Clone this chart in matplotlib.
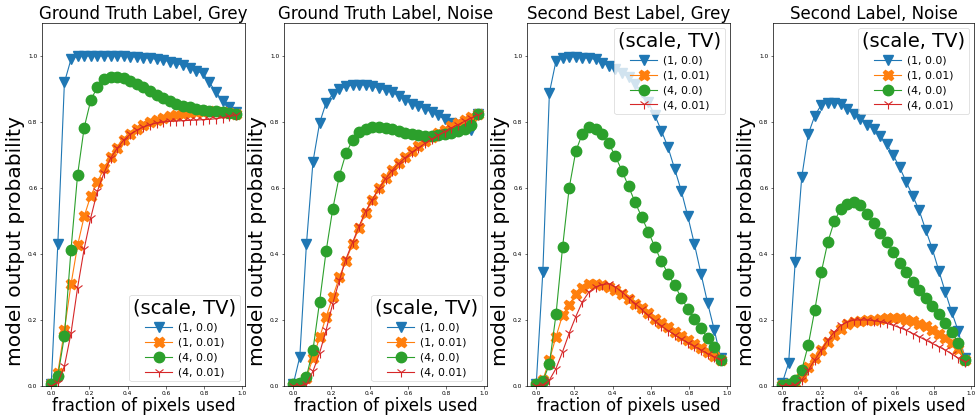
import numpy as np
import matplotlib
matplotlib.use("Agg")
import matplotlib.pyplot as plt

# fraction of pixels used (29 points)
fractions = np.arange(29) / 29

titles = ["Ground Truth Label, Grey", "Ground Truth Label, Noise",
          "Second Best Label, Grey", "Second Label, Noise"]
series_labels = ["(1, 0.0)", "(1, 0.01)", "(4, 0.0)", "(4, 0.01)"]
legend_locs = ["lower right", "lower right", "upper right", "upper right"]

# Panel 1: Ground Truth Label, Grey
gt_grey_1_00 = [0.005, 0.43, 0.92, 0.99, 1.0, 1.0, 1.0, 1.0, 1.0, 1.0, 1.0, 1.0, 0.998, 0.997,
                0.995, 0.993, 0.99, 0.987, 0.983, 0.978, 0.972, 0.965, 0.955, 0.947, 0.92, 0.89,
                0.864, 0.845, 0.83]
gt_grey_1_01 = [0.005, 0.04, 0.17, 0.308, 0.426, 0.514, 0.577, 0.617, 0.66, 0.695, 0.72, 0.745,
                0.765, 0.78, 0.79, 0.8, 0.807, 0.812, 0.817, 0.821, 0.825, 0.828, 0.83, 0.831,
                0.832, 0.831, 0.83, 0.828, 0.825]
gt_grey_4_00 = [0.005, 0.03, 0.151, 0.413, 0.64, 0.783, 0.866, 0.906, 0.93, 0.937, 0.937, 0.933,
                0.925, 0.915, 0.905, 0.893, 0.882, 0.872, 0.863, 0.856, 0.85, 0.845, 0.84, 0.837,
                0.834, 0.832, 0.83, 0.828, 0.825]
gt_grey_4_01 = [0.0, 0.01, 0.06, 0.16, 0.298, 0.416, 0.51, 0.59, 0.645, 0.69, 0.72, 0.745, 0.763,
                0.775, 0.785, 0.792, 0.797, 0.8, 0.802, 0.803, 0.804, 0.805, 0.806, 0.807, 0.808,
                0.81, 0.813, 0.817, 0.82]

# Panel 2: Ground Truth Label, Noise
gt_noise_1_00 = [0.005, 0.089, 0.429, 0.68, 0.797, 0.859, 0.884, 0.9, 0.908, 0.912, 0.913, 0.912,
                 0.908, 0.903, 0.897, 0.89, 0.88, 0.868, 0.855, 0.85, 0.84, 0.83, 0.82, 0.808,
                 0.798, 0.79, 0.783, 0.777, 0.825]
gt_noise_1_01 = [0.0, 0.005, 0.025, 0.085, 0.147, 0.21, 0.27, 0.33, 0.38, 0.43, 0.48, 0.525, 0.565,
                 0.6, 0.63, 0.655, 0.677, 0.695, 0.712, 0.727, 0.741, 0.754, 0.766, 0.777, 0.787,
                 0.797, 0.806, 0.815, 0.825]
gt_noise_4_00 = [0.005, 0.01, 0.028, 0.11, 0.255, 0.41, 0.537, 0.637, 0.705, 0.745, 0.77, 0.78,
                 0.785, 0.785, 0.782, 0.778, 0.773, 0.768, 0.764, 0.761, 0.759, 0.758, 0.76, 0.763,
                 0.767, 0.772, 0.778, 0.79, 0.825]
gt_noise_4_01 = [0.0, 0.0, 0.005, 0.045, 0.1, 0.17, 0.25, 0.32, 0.385, 0.435, 0.485, 0.53, 0.565,
                 0.598, 0.628, 0.653, 0.674, 0.692, 0.708, 0.722, 0.735, 0.748, 0.76, 0.771, 0.782,
                 0.792, 0.802, 0.812, 0.822]

# Panel 3: Second Best Label, Grey
sb_grey_1_00 = [0.005, 0.345, 0.889, 0.985, 0.995, 0.998, 0.997, 0.995, 0.993, 0.99, 0.98, 0.97,
                0.96, 0.95, 0.935, 0.915, 0.89, 0.86, 0.82, 0.773, 0.723, 0.658, 0.592, 0.514,
                0.43, 0.34, 0.252, 0.171, 0.084]
sb_grey_1_01 = [0.003, 0.018, 0.079, 0.149, 0.215, 0.245, 0.28, 0.298, 0.31, 0.31, 0.305, 0.3,
                0.29, 0.28, 0.265, 0.25, 0.235, 0.22, 0.204, 0.19, 0.178, 0.165, 0.152, 0.14,
                0.128, 0.115, 0.103, 0.092, 0.08]
sb_grey_4_00 = [0.005, 0.015, 0.066, 0.217, 0.421, 0.6, 0.711, 0.765, 0.785, 0.78, 0.765, 0.736,
                0.696, 0.653, 0.605, 0.557, 0.512, 0.468, 0.421, 0.378, 0.34, 0.305, 0.268, 0.233,
                0.204, 0.177, 0.144, 0.117, 0.079]
sb_grey_4_01 = [0.0, 0.003, 0.018, 0.053, 0.104, 0.16, 0.21, 0.255, 0.285, 0.3, 0.307, 0.31, 0.3,
                0.285, 0.267, 0.25, 0.232, 0.214, 0.198, 0.182, 0.168, 0.155, 0.143, 0.131, 0.12,
                0.109, 0.098, 0.088, 0.078]

# Panel 4: Second Label, Noise
sl_noise_1_00 = [0.008, 0.07, 0.376, 0.632, 0.763, 0.819, 0.852, 0.859, 0.859, 0.854, 0.839,
                 0.824, 0.809, 0.792, 0.78, 0.758, 0.733, 0.7, 0.663, 0.619, 0.577, 0.532, 0.473,
                 0.416, 0.35, 0.285, 0.223, 0.166, 0.084]
sl_noise_1_01 = [0.003, 0.006, 0.01, 0.028, 0.058, 0.084, 0.109, 0.134, 0.154, 0.174, 0.187,
                 0.194, 0.197, 0.2, 0.201, 0.204, 0.207, 0.207, 0.206, 0.201, 0.197, 0.189, 0.181,
                 0.169, 0.157, 0.144, 0.129, 0.111, 0.079]
sl_noise_4_00 = [0.003, 0.006, 0.018, 0.048, 0.124, 0.23, 0.345, 0.436, 0.5, 0.537, 0.552, 0.557,
                 0.547, 0.522, 0.493, 0.463, 0.436, 0.406, 0.374, 0.345, 0.315, 0.29, 0.267,
                 0.242, 0.217, 0.191, 0.164, 0.131, 0.079]
sl_noise_4_01 = [0.0, 0.001, 0.003, 0.018, 0.048, 0.079, 0.109, 0.139, 0.164, 0.184, 0.194, 0.2,
                 0.2, 0.2, 0.198, 0.195, 0.19, 0.184, 0.177, 0.169, 0.159, 0.149, 0.139, 0.129,
                 0.119, 0.109, 0.097, 0.084, 0.074]

panels = [
    [gt_grey_1_00, gt_grey_1_01, gt_grey_4_00, gt_grey_4_01],
    [gt_noise_1_00, gt_noise_1_01, gt_noise_4_00, gt_noise_4_01],
    [sb_grey_1_00, sb_grey_1_01, sb_grey_4_00, sb_grey_4_01],
    [sl_noise_1_00, sl_noise_1_01, sl_noise_4_00, sl_noise_4_01],
]

styles = [
    dict(color="C0", marker="v", markersize=7.5),
    dict(color="C1", marker="X", markersize=7.5),
    dict(color="C2", marker="o", markersize=7.5),
    dict(color="C3", marker="1", markersize=7.5, markeredgewidth=0.8),
]

fig = plt.figure(figsize=(9.77, 4.17), dpi=100)
W, H = 977, 417
lefts = [42, 284, 527, 773]
widths = [203, 203, 203, 201]
top, bottom = 23, 386

for k in range(4):
    ax = fig.add_axes([lefts[k] / W, (H - bottom) / H, widths[k] / W, (bottom - top) / H])
    for vals, lab, st in zip(panels[k], series_labels, styles):
        ax.plot(fractions, vals, label=lab, linewidth=0.8, **st)
    ax.set_ylim(0, 1.1)
    ax.set_xticks([0.0, 0.2, 0.4, 0.6, 0.8, 1.0])
    ax.set_yticks([0.0, 0.2, 0.4, 0.6, 0.8, 1.0])
    ax.tick_params(labelsize=4.2, length=1.8, width=0.4, pad=1.5)
    for sp in ax.spines.values():
        sp.set_linewidth(0.5)
    ax.set_title(titles[k], fontsize=12, pad=3)
    ax.set_xlabel("fraction of pixels used", fontsize=12, labelpad=1)
    ax.set_ylabel("model output probability", fontsize=14.5)
    ax.yaxis.set_label_coords(-0.085, 0.40)
    leg = ax.legend(title="(scale, TV)", loc=legend_locs[k], fontsize=7.8,
                    title_fontsize=14, handlelength=2.5, borderpad=0.35,
                    labelspacing=0.45, handletextpad=0.5, borderaxespad=0.45)
    leg.get_frame().set_linewidth(0.5)

fig.savefig("out.png", dpi=100)
